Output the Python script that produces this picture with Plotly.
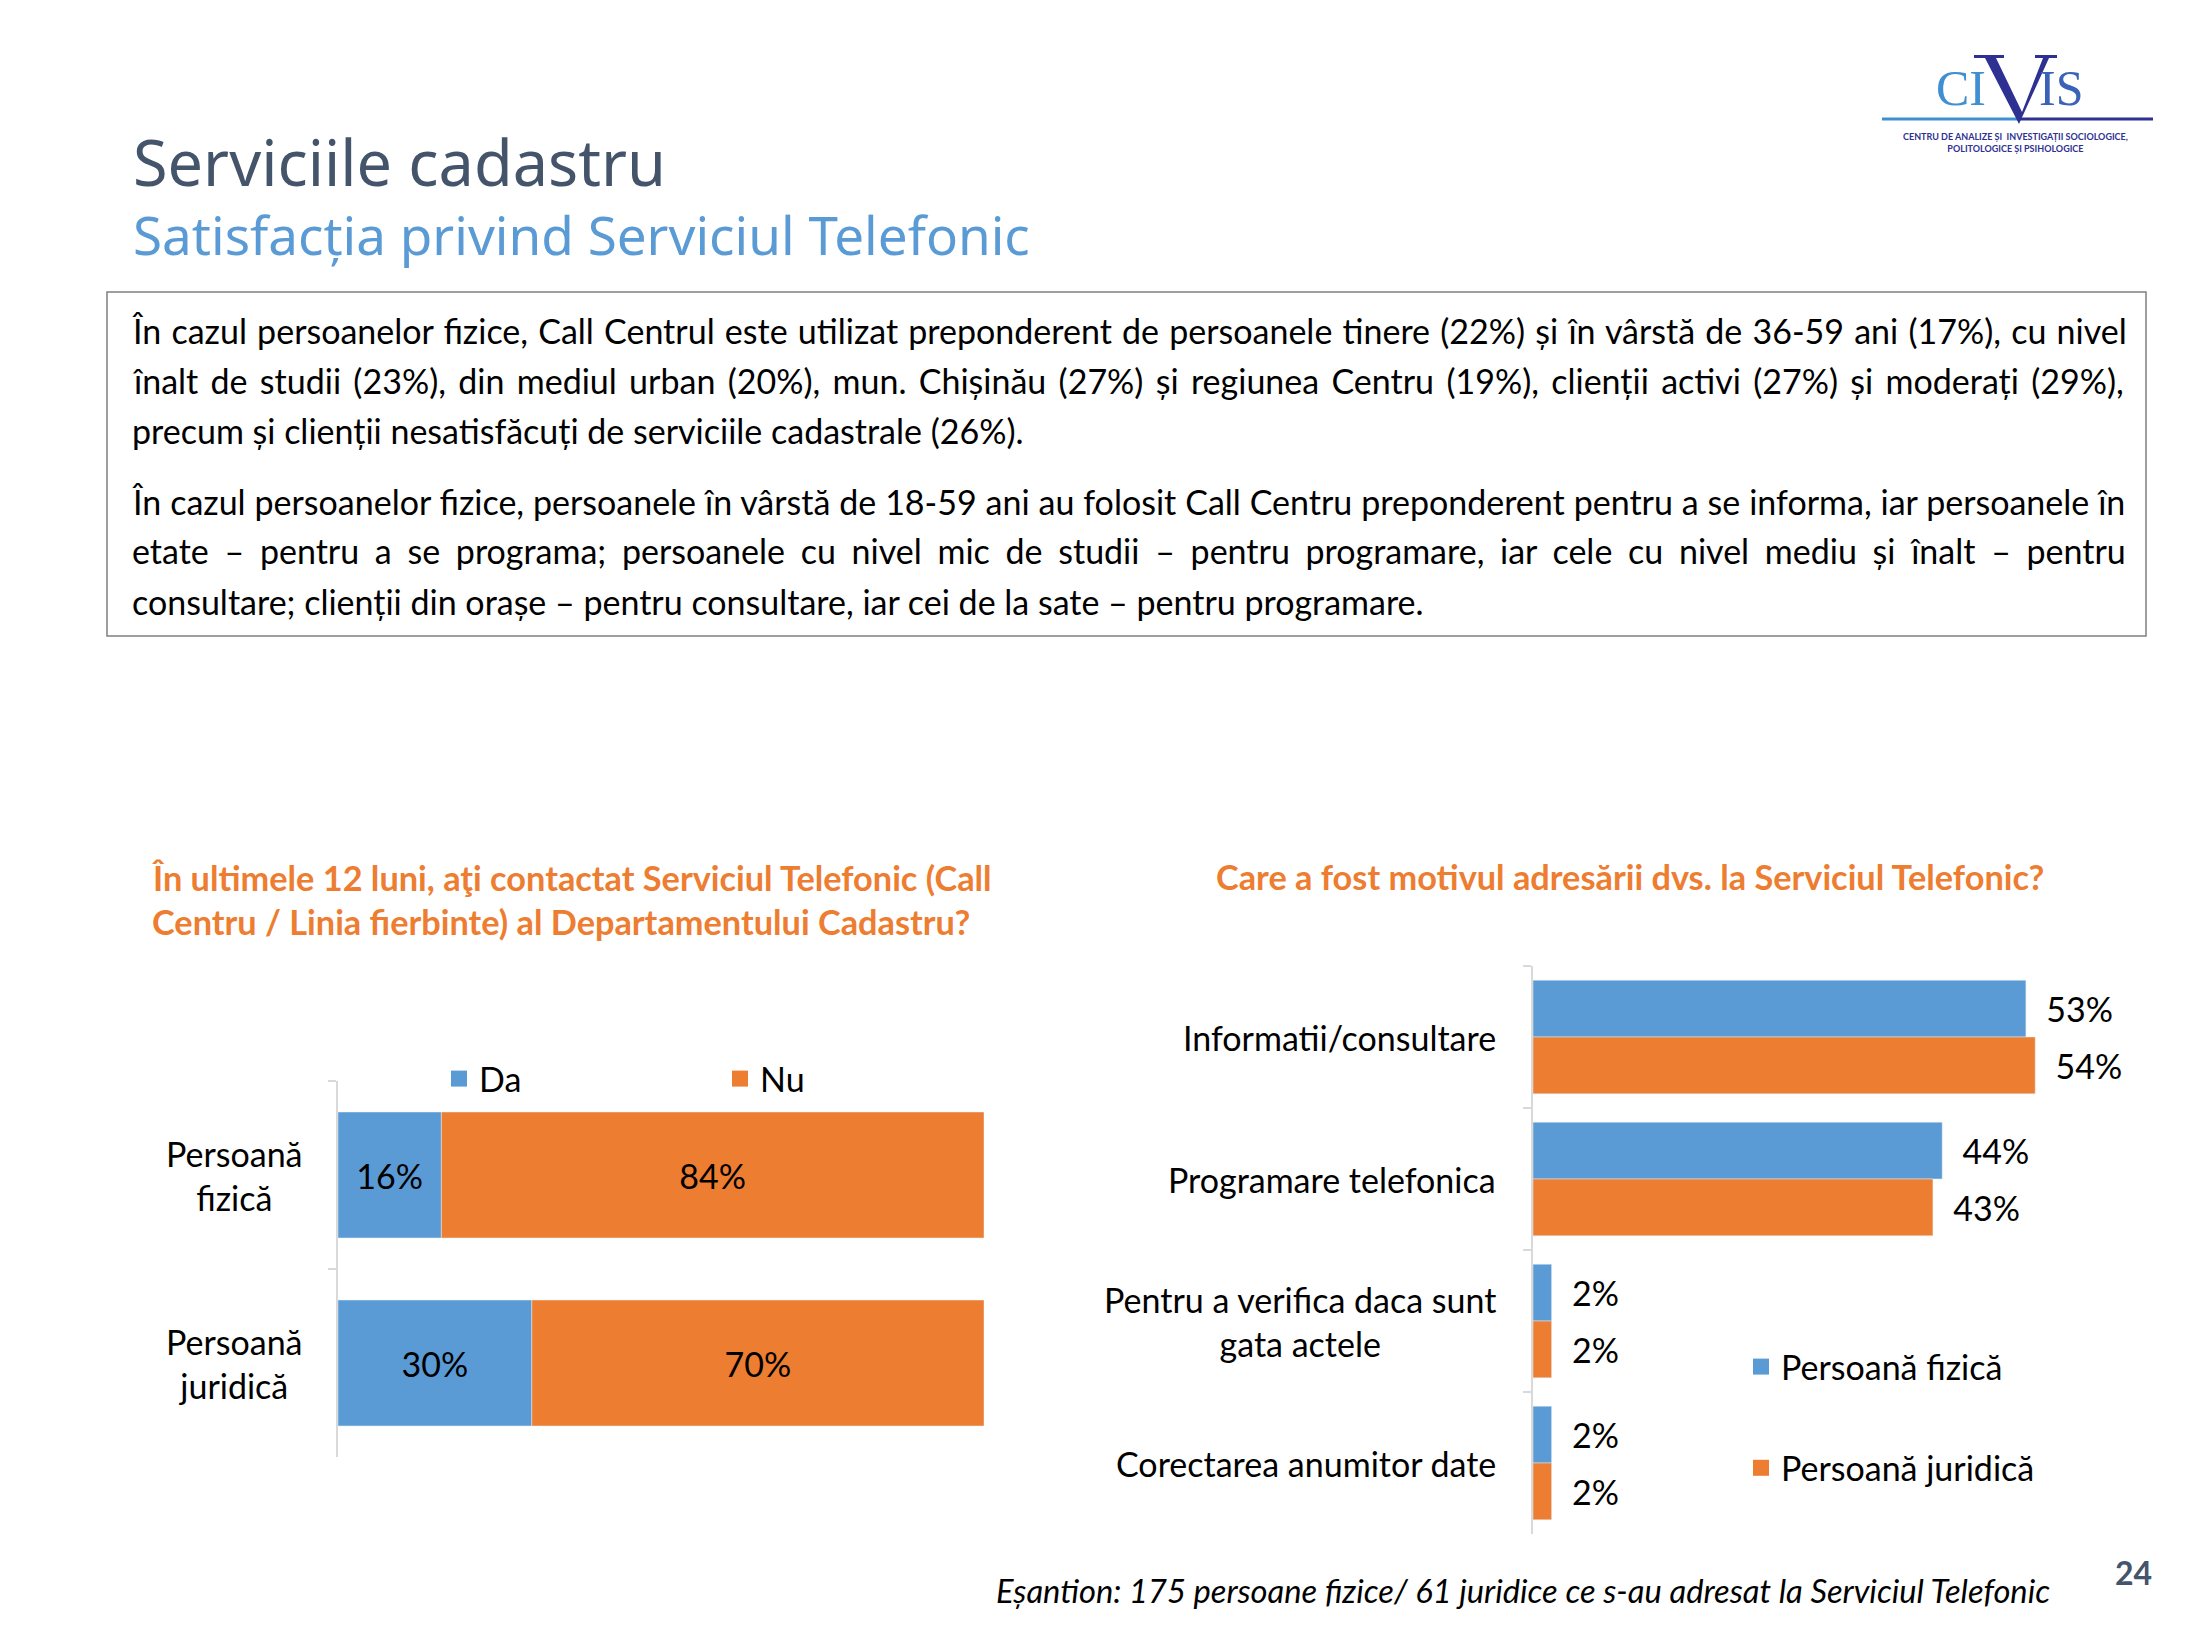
import plotly.graph_objects as go

W, H = 2201, 1651

BLUE = "#5B9BD5"
ORANGE = "#ED7D31"
SLATE = "#44546A"
AXIS = "#D9D9D9"
BODY = "Lato, 'Open Sans', sans-serif"
TITLE_FONT = "'Noto Sans', 'Open Sans', sans-serif"

# left chart
cat_left = ["Persoană fizică", "Persoană juridică"]
cat_left_labels = ["Persoană<br>fizică", "Persoană<br>juridică"]
da = [16, 30]
nu = [84, 70]

# right chart
cat_right = [
    "Informatii/consultare",
    "Programare telefonica",
    "Pentru a verifica daca sunt gata actele",
    "Corectarea anumitor date",
]
cat_right_labels = [
    "Informatii/consultare",
    "Programare telefonica",
    "Pentru a verifica daca sunt<br>gata actele",
    "Corectarea anumitor date",
]
fizica = [53, 44, 2, 2]
juridica = [54, 43, 2, 2]

text_lines = [
    "În cazul persoanelor fizice, Call Centrul este utilizat preponderent de persoanele tinere (22%) și în vârstă de 36-59 ani (17%), cu nivel",
    "înalt de studii (23%), din mediul urban (20%), mun. Chișinău (27%) și regiunea Centru (19%), clienții activi (27%) și moderați (29%),",
    "precum și clienții nesatisfăcuți de serviciile cadastrale (26%).",
    "În cazul persoanelor fizice, persoanele în vârstă de 18-59 ani au folosit Call Centru preponderent pentru a se informa, iar persoanele în",
    "etate – pentru a se programa; persoanele cu nivel mic de studii – pentru programare, iar cele cu nivel mediu și înalt – pentru",
    "consultare; clienții din orașe – pentru consultare, iar cei de la sate – pentru programare.",
]
text_y = [331, 380, 431, 501, 550, 601]
# extra word spacing (px) to imitate the justified lines
text_wordspace = [1.5, 3.6, 0, 0.2, 7.0, 0]

# page has an 8px body margin, so shift everything back by that
OFF = 8


def fx(p):
    return (p - OFF) / W


def fy(p):
    return 1 - (p - OFF) / H


fig = go.Figure()

bar_font = dict(size=34, color="black", family=BODY)

fig.add_trace(
    go.Bar(
        y=cat_left, x=da, orientation="h", name="Da", showlegend=False,
        marker=dict(color=BLUE), width=0.67, offset=-0.335,
        text=[f"{v}%" for v in da], textposition="inside",
        insidetextanchor="middle", textfont=bar_font,
        xaxis="x", yaxis="y",
    )
)
fig.add_trace(
    go.Bar(
        y=cat_left, x=nu, base=da, orientation="h", name="Nu", showlegend=False,
        marker=dict(color=ORANGE), width=0.67, offset=-0.335,
        text=[f"{v}%" for v in nu], textposition="inside",
        insidetextanchor="middle", textfont=bar_font,
        xaxis="x", yaxis="y",
    )
)
fig.add_trace(
    go.Bar(
        y=cat_right, x=fizica, orientation="h", name="Persoană fizică", showlegend=False,
        marker=dict(color=BLUE),
        text=[f"\u00a0\u00a0{v}%" for v in fizica], textposition="outside",
        textfont=bar_font, cliponaxis=False,
        xaxis="x2", yaxis="y2",
    )
)
fig.add_trace(
    go.Bar(
        y=cat_right, x=juridica, orientation="h", name="Persoană juridică", showlegend=False,
        marker=dict(color=ORANGE),
        text=[f"\u00a0\u00a0{v}%" for v in juridica], textposition="outside",
        textfont=bar_font, cliponaxis=False,
        xaxis="x2", yaxis="y2",
    )
)

# legend entries (square markers, bigger than the default bar icons)
for name, col, leg, grp, xa, ya in [
    ("Da", BLUE, "legend", None, "x", "y"),
    ("Nu", ORANGE, "legend", None, "x", "y"),
    ("Persoană fizică", BLUE, "legend2", "f", "x2", "y2"),
    ("Persoană juridică", ORANGE, "legend2", "j", "x2", "y2"),
]:
    fig.add_trace(
        go.Scatter(
            x=[None], y=[None], mode="markers", name=name,
            marker=dict(symbol="square", size=19, color=col),
            legend=leg, legendgroup=grp, xaxis=xa, yaxis=ya, hoverinfo="skip",
        )
    )

cat_axis = dict(
    type="category", autorange="reversed", showline=True, linecolor=AXIS,
    linewidth=1.5, ticks="outside", tickson="boundaries", ticklen=8,
    tickcolor=AXIS, tickwidth=1.5, showticklabels=False, showgrid=False,
    zeroline=False,
)

fig.update_layout(
    width=W, height=H,
    margin=dict(l=0, r=0, t=0, b=0),
    paper_bgcolor="white", plot_bgcolor="rgba(0,0,0,0)",
    barmode="group", bargap=0.2, bargroupgap=0,
    font=dict(family=BODY, color="black"),
    xaxis=dict(domain=[fx(338), fx(984)], range=[0, 100], visible=False, anchor="y"),
    yaxis=dict(domain=[fy(1457), fy(1081)], anchor="x",
               categoryorder="array", categoryarray=cat_left, **cat_axis),
    xaxis2=dict(domain=[fx(1533), fx(2091)], range=[0, 60], visible=False, anchor="y2"),
    yaxis2=dict(domain=[fy(1534), fy(966)], anchor="x2",
                categoryorder="array", categoryarray=cat_right, **cat_axis),
    legend=dict(
        orientation="h", x=fx(439), y=fy(1079), xanchor="left", yanchor="middle",
        entrywidth=236, entrywidthmode="pixels", font=dict(size=34, family=BODY),
        bgcolor="rgba(0,0,0,0)", traceorder="normal", itemsizing="trace",
    ),
    legend2=dict(
        orientation="v", x=fx(1741), y=fy(1338), xanchor="left", yanchor="top",
        tracegroupgap=54, font=dict(size=34, family=BODY),
        bgcolor="rgba(0,0,0,0)", traceorder="grouped", itemsizing="trace",
    ),
    showlegend=True,
)

ann = []
# title + subtitle in one block
ann.append(dict(
    text=f"<span style='font-size:63px;color:{SLATE}'>Serviciile cadastru</span><br>"
         "Satisfacția privind Serviciul Telefonic",
    x=fx(131), y=fy(117), xanchor="left", yanchor="top", align="left",
    font=dict(size=53, color=BLUE, family=TITLE_FONT)))

# text box
for line, y, ws in zip(text_lines, text_y, text_wordspace):
    txt = f"<span style='word-spacing:{ws}px'>{line}</span>" if ws else line
    ann.append(dict(text=txt, x=fx(130), y=fy(y), xanchor="left", yanchor="middle",
                    font=dict(size=34, color="black", family=BODY)))

# chart titles
ttl_font = dict(size=34.3, color=ORANGE, family=BODY)
ann.append(dict(text="<b>În ultimele 12 luni, aţi contactat Serviciul Telefonic (Call</b>",
                x=fx(150), y=fy(877), xanchor="left", yanchor="middle", font=ttl_font))
ann.append(dict(text="<b>Centru / Linia fierbinte) al Departamentului Cadastru?</b>",
                x=fx(150), y=fy(921), xanchor="left", yanchor="middle", font=ttl_font))
ann.append(dict(text="<b>Care a fost motivul adresării dvs. la Serviciul Telefonic?</b>",
                x=fx(1630), y=fy(876), xanchor="center", yanchor="middle", font=ttl_font))

# category labels
for cat, lab in zip(cat_left, cat_left_labels):
    ann.append(dict(text=lab, xref="paper", yref="y", x=fx(234), y=cat,
                    xanchor="center", yanchor="middle", align="center",
                    font=dict(size=34, color="black", family=BODY)))
for cat, lab in zip(cat_right, cat_right_labels):
    ann.append(dict(text=lab, xref="paper", yref="y2", x=fx(1498), y=cat,
                    xanchor="right", yanchor="middle", align="center",
                    font=dict(size=34, color="black", family=BODY)))

# footnote and page number
ann.append(dict(text="<i>Eșantion: 175 persoane fizice/ 61 juridice ce s-au adresat la Serviciul Telefonic</i>",
                x=fx(994), y=fy(1590), xanchor="left", yanchor="middle",
                font=dict(size=32.7, color="black", family=BODY)))
ann.append(dict(text="<b>24</b>", x=fx(2133), y=fy(1572), xanchor="center", yanchor="middle",
                font=dict(size=32, color=SLATE, family=BODY)))

# logo letters (the big V is drawn as a shape below)
ann.append(dict(text="CI", x=fx(1988), y=fy(88), xanchor="right", yanchor="middle",
                font=dict(size=50, color="#3F8FD2", family="'Liberation Serif', serif")))
ann.append(dict(text="IS", x=fx(2037), y=fy(88), xanchor="left", yanchor="middle",
                font=dict(size=50, color="#3A62B8", family="'Liberation Serif', serif")))
ann.append(dict(text="<b>CENTRU DE ANALIZE ȘI  INVESTIGAȚII SOCIOLOGICE,<br>POLITOLOGICE ȘI PSIHOLOGICE</b>",
                x=fx(2015), y=fy(142), xanchor="center", yanchor="middle", align="center",
                font=dict(size=9, color="#2E3192", family=BODY)))

for a in ann:
    a.setdefault("xref", "paper")
    a.setdefault("yref", "paper")
    a["showarrow"] = False
fig.update_layout(annotations=ann)

v_pts = [(1974, 55), (2004, 55), (2004, 58), (1996, 58), (2022, 112), (2043, 58),
         (2035, 58), (2035, 55), (2057, 55), (2057, 58), (2049, 58), (2019, 124),
         (1985, 58), (1974, 58)]
v_path = "M " + " L ".join(f"{fx(x):.5f},{fy(y):.5f}" for x, y in v_pts) + " Z"

shapes = [
    dict(type="rect", xref="paper", yref="paper", x0=fx(107), y0=fy(292), x1=fx(2146), y1=fy(636),
         line=dict(color="#7F7F7F", width=1.5)),
    dict(type="line", xref="paper", yref="paper", x0=fx(1882), y0=fy(119), x1=fx(2020), y1=fy(119),
         line=dict(color="#3F8FD2", width=3)),
    dict(type="line", xref="paper", yref="paper", x0=fx(2020), y0=fy(119), x1=fx(2153), y1=fy(119),
         line=dict(color="#2E3192", width=3)),
    dict(type="path", xref="paper", yref="paper", path=v_path,
         fillcolor="#2E3192", line=dict(width=0)),
]
fig.update_layout(shapes=shapes)

fig.write_html("out.html")
